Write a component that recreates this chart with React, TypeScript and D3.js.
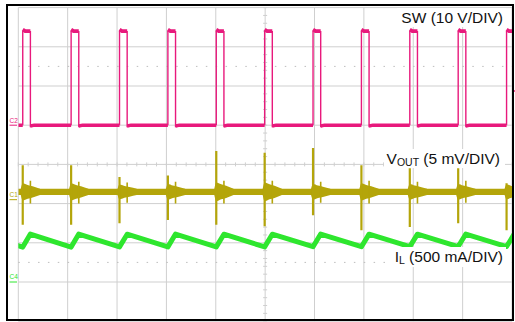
import React from "react";
import * as d3 from "d3";

// ---- Data (time in divisions, 10 div across) ----
const X_DIVS = 10;
const Y_DIVS = 8;
// SW rising edges (div)
const swEdges = [0.09, 1.07, 2.05, 3.03, 4.01, 4.99, 5.97, 6.95, 7.93, 8.91, 9.89];
const swOnTime = 0.155; // div
const swHighV = 24; // V
const swLowV = 0; // V
// VOUT (mV, AC) spikes at each switching edge
const voutBase = 1.0;
const voutNoise = 0.4; // mV half-band
const voutUp = [4.4, 4.4, 2.9, 3.1, 6.2, 6.0, 6.6, 4.4, 4.0, 4.0, 2.1];
const voutDown = [-3.2, -3.2, -3.0, -2.6, -3.2, -3.4, -2.0, -3.9, -3.5, -3.0, -3.9];
const voutRingUp = [2.4, 2.3, 2.2, 2.3, 2.4, 2.4, 2.3, 2.4, 2.3, 2.4, 2.2];
const voutRingDown = [-0.5, -0.5, -0.4, -0.5, -0.5, -0.5, -0.4, -0.5, -0.5, -0.4, -0.5];
const voutBurst = [1.1, 1.1, 0.95, 1.0, 1.2, 1.2, 1.0, 1.1, 1.0, 1.0, 0.95];
// IL (mA)
const ilValley = [445, 445, 448, 448, 448, 448, 450, 450, 452, 452, 452];
const ilPeak = [612, 612, 610, 612, 610, 610, 612, 610, 610, 612, 612];

const labelSW = "SW (10 V/DIV)";
const labelVout = ["V", "OUT", " (5 mV/DIV)"];
const labelIL = ["I", "L", " (500 mA/DIV)"];

const PINK = "#e8197c";
const OLIVE = "#b4a50a";
const GREEN = "#2ee62e";
const GRID = "#cfcfcf";

export default function App() {
  const W = 515, H = 322;
  const x = d3.scaleLinear().domain([0, X_DIVS]).range([18.3, 512]);
  const y = d3.scaleLinear().domain([-Y_DIVS / 2, Y_DIVS / 2]).range([321.2, 7.6]);
  const swY = (v: number) => y(v / 10 + 1);
  const voY = (mv: number) => y(mv / 5 - 0.9);
  const ilY = (ma: number) => y(ma / 500 - 3);
  const line = d3.line<[number, number]>().x(d => d[0]).y(d => d[1]);
  const period = swEdges[1] - swEdges[0];

  // SW segments
  const swLowSegs: [number, number][][] = [];
  const swHighSegs: [number, number][][] = [];
  const swEdgeSegs: [number, number][][] = [];
  swLowSegs.push([[x(0), swY(swLowV)], [x(swEdges[0]), swY(swLowV)]]);
  swEdges.forEach((e, i) => {
    const f = e + swOnTime;
    const next = i + 1 < swEdges.length ? swEdges[i + 1] : X_DIVS + 0.5;
    swEdgeSegs.push([[x(e), swY(swLowV)], [x(e), swY(swHighV)]]);
    swEdgeSegs.push([[x(f), swY(swHighV)], [x(f), swY(swLowV) + 2]]);
    swHighSegs.push([[x(e), swY(swHighV + 0.4)], [x(e + 0.05), swY(swHighV)], [x(f), swY(swHighV)]]);
    swLowSegs.push([[x(f), swY(swLowV - 0.2)], [x(f + 0.08), swY(swLowV)], [x(next), swY(swLowV)]]);
  });

  // VOUT burst envelopes (area around each edge)
  type P = { t: number; h: number };
  const area = d3.area<P>().x(d => x(d.t)).y0(d => voY(voutBase - d.h)).y1(d => voY(voutBase + d.h)).curve(d3.curveMonotoneX);
  const bursts = swEdges.map((e, i) => [
    { t: e - 0.04, h: voutNoise },
    { t: e, h: voutBurst[i] },
    { t: e + 0.1, h: voutBurst[i] * 0.8 },
    { t: e + 0.2, h: voutBurst[i] * 0.65 },
    { t: e + 0.35, h: voutNoise },
  ]);

  // IL path
  const ilPts: [number, number][] = [];
  ilPts.push([x(swEdges[0] - period + swOnTime), ilY(ilPeak[0])]);
  swEdges.forEach((e, i) => {
    ilPts.push([x(e), ilY(ilValley[i])]);
    ilPts.push([x(e + swOnTime), ilY(ilPeak[i])]);
  });

  const hLines = d3.range(0, Y_DIVS + 1).map(j => y(-Y_DIVS / 2 + j));
  const vLines = d3.range(0, X_DIVS + 1).map(i => x(i));
  const minorX = d3.range(0, X_DIVS * 5 + 1).map(k => x(k / 5));
  const minorY = d3.range(0, Y_DIVS * 5 + 1).map(k => y(-Y_DIVS / 2 + k / 5));

  const font = "'Liberation Sans', Arial, sans-serif";

  return (
    <svg width={W} height={H} style={{ position: "absolute", left: 0, top: 0, background: "#fff" }}>
      <defs>
        <clipPath id="plot">
          <rect x={x(0)} y={6} width={x(X_DIVS) - x(0)} height={314} />
        </clipPath>
      </defs>
      <rect x={0} y={0} width={W} height={H} fill="#fff" />
      {/* grid */}
      <g stroke={GRID} strokeWidth={1}>
        {hLines.map((v, i) => <line key={"h" + i} x1={x(0)} x2={x(X_DIVS)} y1={v} y2={v} />)}
        {vLines.map((v, i) => <line key={"v" + i} x1={v} x2={v} y1={y(Y_DIVS / 2)} y2={y(-Y_DIVS / 2)} />)}
        {minorX.map((v, i) => <line key={"mx" + i} x1={v} x2={v} y1={y(0) - 2} y2={y(0) + 2} />)}
        {minorY.map((v, i) => <line key={"my" + i} x1={x(5) - 2} x2={x(5) + 2} y1={v} y2={v} />)}
        {[2.5, -2.5].map(d => (
          <line key={"d" + d} x1={x(0)} x2={x(X_DIVS)} y1={y(d)} y2={y(d)} strokeDasharray="1.5 8.37" stroke="#bdbdbd" />
        ))}
      </g>
      <g clipPath="url(#plot)" fill="none" strokeLinejoin="round">
        {/* SW */}
        {swLowSegs.map((s, i) => <path key={"sl" + i} d={line(s) || ""} stroke={PINK} strokeWidth={3.4} />)}
        {swHighSegs.map((s, i) => <path key={"sh" + i} d={line(s) || ""} stroke={PINK} strokeWidth={3.6} />)}
        {swEdgeSegs.map((s, i) => <path key={"se" + i} d={line(s) || ""} stroke={PINK} strokeWidth={1.4} />)}
        {/* VOUT */}
        <path d={line([[x(0), voY(voutBase)], [x(X_DIVS), voY(voutBase)]]) || ""} stroke={OLIVE} strokeWidth={voY(0) - voY(voutNoise * 2)} />
        {swEdges.map((e, i) => (
          <g key={"vo" + i} stroke={OLIVE}>
            <path d={area(bursts[i]) || ""} fill={OLIVE} stroke="none" />
            <path d={line([[x(e), voY(voutUp[i])], [x(e), voY(voutDown[i])]]) || ""} strokeWidth={2.2} />
            <path d={line([[x(e + swOnTime), voY(voutRingUp[i])], [x(e + swOnTime), voY(voutRingDown[i])]]) || ""} strokeWidth={1.6} />
          </g>
        ))}
        {/* IL */}
        <path d={line(ilPts) || ""} stroke={GREEN} strokeWidth={5} />
      </g>
      {/* right trigger mark */}
      <line x1={512} x2={515} y1={91} y2={91} stroke={PINK} strokeWidth={1.5} />
      {/* channel markers */}
      <g fontFamily={font} fontSize={6.5}>
        <text x={9.5} y={swY(0) - 2.5} fill={PINK}>C2</text>
        <line x1={9.5} x2={17} y1={swY(0)} y2={swY(0)} stroke={PINK} strokeWidth={1} />
        <text x={9.5} y={voY(0) - 3} fill={OLIVE}>C1</text>
        <line x1={9.5} x2={17} y1={voY(0)} y2={voY(0)} stroke={OLIVE} strokeWidth={1} />
        <text x={9.5} y={ilY(0) - 3} fill={GREEN}>C4</text>
        <line x1={9.5} x2={17} y1={ilY(0)} y2={ilY(0)} stroke={GREEN} strokeWidth={1} />
      </g>
      {/* labels */}
      <g fontFamily={font} fontSize={15.5} fill="#111">
        <rect x={397} y={8} width={109} height={19} fill="#fff" />
        <text x={503} y={23} textAnchor="end">{labelSW}</text>
        <rect x={384} y={149} width={121} height={19} fill="#fff" />
        <text x={500} y={163.5} textAnchor="end">
          {labelVout[0]}
          <tspan fontSize={10.5} dy={2}>{labelVout[1]}</tspan>
          <tspan dy={-2}>{labelVout[2]}</tspan>
        </text>
        <rect x={390} y={247} width={116} height={20} fill="#fff" />
        <text x={503} y={262} textAnchor="end">
          {labelIL[0]}
          <tspan fontSize={10.5} dy={2}>{labelIL[1]}</tspan>
          <tspan dy={-2}>{labelIL[2]}</tspan>
        </text>
      </g>
      {/* frame */}
      <rect x={7} y={5} width={506} height={315} fill="none" stroke="#000" strokeWidth={2} />
    </svg>
  );
}
